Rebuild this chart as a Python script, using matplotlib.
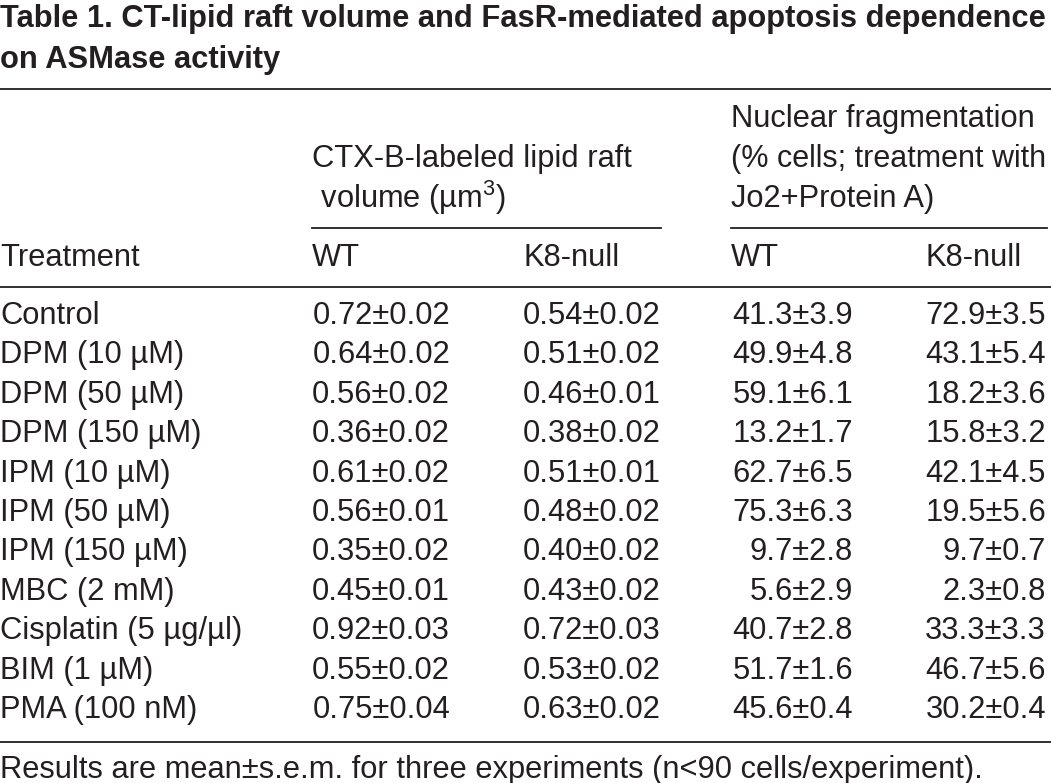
import matplotlib
matplotlib.use('Agg')
from matplotlib import pyplot as plt
from matplotlib.lines import Line2D

# table values
treatments = ['Control', 'DPM (10 \u00b5M)', 'DPM (50 \u00b5M)', 'DPM (150 \u00b5M)',
              'IPM (10 \u00b5M)', 'IPM (50 \u00b5M)', 'IPM (150 \u00b5M)', 'MBC (2 mM)',
              'Cisplatin (5 \u00b5g/\u00b5l)', 'BIM (1 \u00b5M)', 'PMA (100 nM)']
raft_wt = [0.72, 0.64, 0.56, 0.36, 0.61, 0.56, 0.35, 0.45, 0.92, 0.55, 0.75]
raft_wt_err = [0.02, 0.02, 0.02, 0.02, 0.02, 0.01, 0.02, 0.01, 0.03, 0.02, 0.04]
raft_k8 = [0.54, 0.51, 0.46, 0.38, 0.51, 0.48, 0.40, 0.43, 0.72, 0.53, 0.63]
raft_k8_err = [0.02, 0.02, 0.01, 0.02, 0.01, 0.02, 0.02, 0.02, 0.03, 0.02, 0.02]
frag_wt = [41.3, 49.9, 59.1, 13.2, 62.7, 75.3, 9.7, 5.6, 40.7, 51.7, 45.6]
frag_wt_err = [3.9, 4.8, 6.1, 1.7, 6.5, 6.3, 2.8, 2.9, 2.8, 1.6, 0.4]
frag_k8 = [72.9, 43.1, 18.2, 15.8, 42.1, 19.5, 9.7, 2.3, 33.3, 46.7, 30.2]
frag_k8_err = [3.5, 5.4, 3.6, 3.2, 4.5, 5.6, 0.7, 0.8, 3.3, 5.6, 0.4]

title_lines = ['Table 1. CT-lipid raft volume and FasR-mediated apoptosis dependence',
               'on ASMase activity']
footer = 'Results are mean\u00b1s.e.m. for three experiments (n<90 cells/experiment).'

plt.rcParams['mathtext.fontset'] = 'custom'
plt.rcParams['mathtext.rm'] = 'Liberation Sans'
plt.rcParams['mathtext.it'] = 'Liberation Sans:italic'
plt.rcParams['mathtext.bf'] = 'Liberation Sans:bold'

W, H = 1051, 783
fig = plt.figure(figsize=(W / 100, H / 100), dpi=100)
fig.patch.set_facecolor('white')

FONT = 'Liberation Sans'
INK = '#231f20'
BODY = 22.2


def put(x, y, s, ha='left', size=BODY, weight='normal'):
    fig.text(x / W, 1 - y / H, s, ha=ha, va='baseline', fontsize=size,
             fontweight=weight, family=FONT, color=INK)


def hline(x0, x1, y, lw=1.3):
    fig.add_artist(Line2D([x0 / W, x1 / W], [1 - y / H, 1 - y / H],
                          color=INK, lw=lw, transform=fig.transFigure))


# title
put(0, 27, title_lines[0], size=22.2, weight='bold')
put(0, 68, title_lines[1], size=22.2, weight='bold')

# rules
hline(0, W, 89)
hline(312, 661, 228)
hline(731, W - 4, 228)
hline(0, W, 287)
hline(0, W, 742)

# header
put(731, 127, 'Nuclear fragmentation')
put(731, 167, '(% cells; treatment with', size=22.0)
put(731, 207, 'Jo2+Protein A)')
put(312, 167, 'CTX-B-labeled lipid raft')
put(312, 208, ' volume (\u00b5m$^{3}$)')
put(0, 266, 'Treatment')
put(312, 266, 'WT')
put(523, 266, 'K8-null')
put(731, 266, 'WT')
put(925, 266, 'K8-null')

# body rows
y0, dy = 324, 39.4
for i, name in enumerate(treatments):
    y = y0 + i * dy
    put(0, y, name)
    put(450, y, f'{raft_wt[i]:.2f}\u00b1{raft_wt_err[i]:.2f}', ha='right')
    put(661, y, f'{raft_k8[i]:.2f}\u00b1{raft_k8_err[i]:.2f}', ha='right')
    put(853, y, f'{frag_wt[i]:.1f}\u00b1{frag_wt_err[i]:.1f}', ha='right')
    put(1046, y, f'{frag_k8[i]:.1f}\u00b1{frag_k8_err[i]:.1f}', ha='right')

put(0, 778, footer)

fig.savefig('out.png', dpi=100)
